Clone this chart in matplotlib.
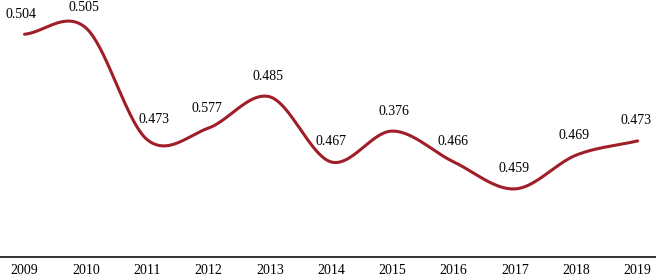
import numpy as np
import matplotlib
matplotlib.use("Agg")
import matplotlib.pyplot as plt

years = ["2009", "2010", "2011", "2012", "2013", "2014", "2015", "2016", "2017", "2018", "2019"]
# vertical position of the curve at each year (as drawn in the chart)
curve_values = [0.520, 0.535, 0.274, 0.301, 0.374, 0.222, 0.294, 0.222, 0.159, 0.238, 0.271]
# printed value labels
label_texts = ["0.504", "0.505", "0.473", "0.577", "0.485", "0.467",
               "0.376", "0.466", "0.459", "0.469", "0.473"]

LINE_COLOR = "#A01E27"
FONT = ["Liberation Serif", "DejaVu Serif"]


def catmull_rom(x, y, n=40):
    x = np.asarray(x, float)
    y = np.asarray(y, float)
    m = np.zeros_like(y)
    m[1:-1] = (y[2:] - y[:-2]) / 2.0
    m[0] = y[1] - y[0]
    m[-1] = y[-1] - y[-2]
    xs, ys = [], []
    for i in range(len(x) - 1):
        t = np.linspace(0, 1, n, endpoint=(i == len(x) - 2))
        h00 = 2 * t**3 - 3 * t**2 + 1
        h10 = t**3 - 2 * t**2 + t
        h01 = -2 * t**3 + 3 * t**2
        h11 = t**3 - t**2
        xs.append(x[i] + t * (x[i + 1] - x[i]))
        ys.append(h00 * y[i] + h10 * m[i] + h01 * y[i + 1] + h11 * m[i + 1])
    return np.concatenate(xs), np.concatenate(ys)


fig = plt.figure(figsize=(6.56, 2.78), dpi=100)
ax = fig.add_axes([0, 21 / 278, 1, 1 - 21 / 278])

xpos = np.arange(len(years))
sx, sy = catmull_rom(xpos, curve_values)
ax.plot(sx, sy, color=LINE_COLOR, lw=2.2, solid_capstyle="round")

label_dx = [-4, -2, 7, -2, -2, 0, 2, -1, -1, -2, -2]
for i, (xv, yv, txt) in enumerate(zip(xpos, curve_values, label_texts)):
    ax.annotate(txt, (xv, yv), xytext=(label_dx[i] * 0.72, 14.4),
                textcoords="offset points", ha="center", va="center",
                fontsize=10, family=FONT, color="#000000")

ax.set_xlim(-0.4, 10.3)
ax.set_ylim(0, 0.6)
ax.set_xticks(xpos)
ax.set_xticklabels(years, family=FONT, fontsize=10, color="#000000")
ax.tick_params(axis="x", length=0, pad=5)
ax.set_yticks([])
for s in ["top", "left", "right"]:
    ax.spines[s].set_visible(False)
ax.spines["bottom"].set_color("#222222")
ax.spines["bottom"].set_linewidth(1.3)
ax.patch.set_alpha(0)

fig.savefig("out.png", dpi=100)
